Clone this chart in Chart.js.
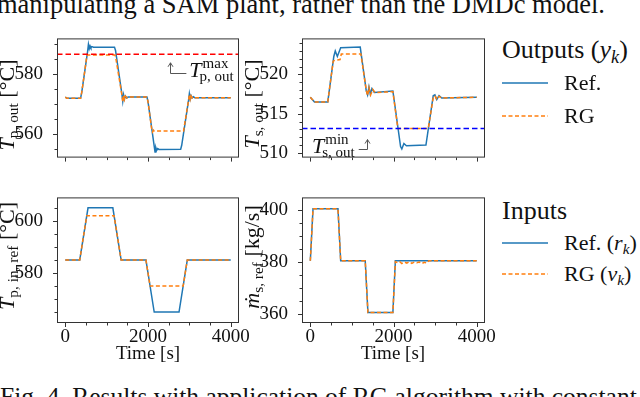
<!DOCTYPE html>
<html>
<head>
<meta charset="utf-8">
<script src="https://cdn.jsdelivr.net/npm/chart.js@4.4.0/dist/chart.umd.min.js"></script>
<style>
  body { margin: 0; width: 640px; height: 397px; overflow: hidden; background: #fff; position: relative;
         font-family: 'Liberation Serif', 'Times New Roman', serif; color: #111; }
  canvas { position: absolute; }
  .txt { position: absolute; white-space: nowrap; line-height: 1; }
  .ylab { position: absolute; white-space: nowrap; font-size: 22px; line-height: 1;
          transform: translate(-50%, -50%) rotate(-90deg); }
  .xlab { position: absolute; white-space: nowrap; font-size: 19px; line-height: 1; transform: translateX(-50%); }
  sub { font-size: 0.7em; vertical-align: -0.28em; line-height: 0; }
  .math { font-family: 'Liberation Serif', 'DejaVu Serif', serif; }
  .legtitle { position: absolute; white-space: nowrap; font-size: 26px; line-height: 26px; }
  .legitem { position: absolute; white-space: nowrap; font-size: 22px; line-height: 22px; }
  svg { position: absolute; }
</style>
</head>
<body>
<div class="txt" style="left:-3px; top:-9px; font-size:26.5px;">manipulating a SAM plant, rather than the DMDc model.</div>

<canvas id="c1" width="249" height="154" style="left:0px; top:21px;"></canvas>
<canvas id="c2" width="250" height="154" style="left:245px; top:21px;"></canvas>
<canvas id="c3" width="249" height="175" style="left:0px; top:180px;"></canvas>
<canvas id="c4" width="250" height="175" style="left:245px; top:180px;"></canvas>

<div class="ylab" style="left:7px; top:105px;"><i>T</i><sub>p, out</sub> [°C]</div>
<div class="ylab" style="left:252px; top:104px;"><i>T</i><sub>s, out</sub> [°C]</div>
<div class="ylab" style="left:7px; top:256px;"><i>T</i><sub>p, in, ref</sub> [°C]</div>
<div class="ylab math" style="left:252px; top:257px;"><i>ṁ</i><sub>s, ref</sub> [kg/s]</div>

<div class="xlab" style="left:148px; top:343px;">Time [s]</div>
<div class="xlab" style="left:393px; top:343px;">Time [s]</div>

<div class="legtitle" style="left:502px; top:37px;">Outputs (<i>y<sub>k</sub></i>)</div>
<svg style="left:502px; top:81px;" width="46" height="4"><line x1="0" y1="2" x2="46" y2="2" stroke="#1f77b4" stroke-width="1.5"/></svg>
<div class="legitem" style="left:564px; top:72px;">Ref.</div>
<svg style="left:502px; top:114px;" width="46" height="4"><line x1="0" y1="2" x2="46" y2="2" stroke="#ff7f0e" stroke-width="1.5" stroke-dasharray="4 2.5"/></svg>
<div class="legitem" style="left:564px; top:105px;">RG</div>

<div class="legtitle" style="left:502px; top:198px;">Inputs</div>
<svg style="left:502px; top:241px;" width="46" height="4"><line x1="0" y1="2" x2="46" y2="2" stroke="#1f77b4" stroke-width="1.5"/></svg>
<div class="legitem" style="left:564px; top:232px;">Ref. (<i>r<sub>k</sub></i>)</div>
<svg style="left:502px; top:272px;" width="46" height="4"><line x1="0" y1="2" x2="46" y2="2" stroke="#ff7f0e" stroke-width="1.5" stroke-dasharray="4 2.5"/></svg>
<div class="legitem" style="left:564px; top:263px;">RG (<i>v<sub>k</sub></i>)</div>

<div class="txt" style="left:0px; top:384px; font-size:25.5px;">Fig. 4. Results with application of RG algorithm with constant</div>

<script>
// ---- data ----
const timeTicks = [0, 2000, 4000];

// T_p,out (top left)
const tpOutRefTime = [0, 40, 370, 400, 540, 560, 580, 600, 620, 645, 680, 1190, 1215, 1370, 1390, 1410, 1430, 1455, 1485, 1520, 1975, 2000, 2150, 2170, 2190, 2210, 2235, 2265, 2790, 2815, 2980, 3000, 3020, 3040, 3065, 3095, 3130, 4000];
const tpOutRef = [572.3, 571.9, 571.9, 574.0, 587.5, 589.8, 588.4, 589.3, 588.7, 589.1, 588.9, 588.9, 587.8, 573.2, 570.9, 573.0, 571.6, 572.6, 572.0, 572.3, 572.3, 570.8, 556.0, 554.1, 555.5, 554.6, 555.2, 554.9, 555.0, 556.3, 571.2, 573.4, 571.7, 572.8, 572.0, 572.4, 572.1, 572.1];
const tpOutRgTime = [0, 40, 370, 400, 520, 540, 1200, 1220, 1370, 1390, 1410, 1430, 1455, 1485, 1520, 1975, 2000, 2090, 2110, 2130, 2150, 2860, 2875, 2980, 3000, 3020, 3040, 3065, 3095, 3130, 4000];
const tpOutRg = [572.3, 571.9, 571.9, 574.0, 585.8, 586.3, 586.3, 585.4, 572.9, 570.7, 573.1, 571.5, 572.6, 572.0, 572.3, 572.3, 570.8, 561.6, 560.7, 561.3, 561.0, 561.0, 562.4, 571.2, 573.2, 571.6, 572.7, 572.0, 572.4, 572.1, 572.1];
const tpOutMax = 586.5;
const tpOutTicks = [560, 580];

// T_s,out (top right)
const tsOutRefTime = [0, 100, 420, 565, 600, 650, 730, 1200, 1345, 1377, 1410, 1442, 1482, 1540, 1985, 2170, 2200, 2250, 2310, 2780, 2955, 2995, 3040, 3095, 3160, 4000];
const tsOutRef = [517.1, 516.5, 516.5, 522.3, 523.0, 522.3, 523.4, 523.5, 517.9, 517.4, 518.4, 517.5, 518.2, 517.7, 517.9, 510.8, 510.5, 511.2, 510.9, 511.0, 517.3, 517.4, 516.8, 517.3, 517.0, 517.1];
const tsOutRgTime = [0, 100, 420, 550, 590, 715, 745, 1215, 1345, 1377, 1410, 1450, 1500, 1555, 1985, 2105, 2835, 2955, 2995, 3040, 3095, 3160, 4000];
const tsOutRg = [517.1, 516.5, 516.5, 521.7, 521.8, 521.9, 522.6, 522.6, 518.0, 517.3, 518.3, 517.4, 518.1, 517.7, 517.8, 513.1, 513.1, 517.0, 517.3, 516.8, 517.2, 517.0, 517.1];
const tsOutMin = 513.1;
const tsOutTicks = [510, 515, 520];

// T_p,in,ref (bottom left)
const tpInRefTime = [0, 350, 550, 1150, 1350, 1950, 2150, 2750, 2950, 4000];
const tpInRef = [585, 585, 605, 605, 585, 585, 565, 565, 585, 585];
const tpInRgTime = [0, 350, 520, 1180, 1350, 1950, 2050, 2850, 2950, 4000];
const tpInRg = [585, 585, 602, 602, 585, 585, 575, 575, 585, 585];
const tpInTicks = [580, 600];

// m_s,ref (bottom right)
const msRefTime = [0, 65, 665, 730, 1320, 1385, 1985, 2045, 4000];
const msRef = [380.4, 400.4, 400.4, 380.4, 380.4, 360.4, 360.4, 380.4, 380.4];
const msRgTime = [0, 65, 665, 730, 1320, 1385, 1985, 2045, 2100, 2150, 2200, 2260, 2320, 2380, 2440, 2500, 2560, 2620, 2680, 2740, 2800, 2850, 4000];
const msRg = [380.4, 400.4, 400.4, 380.4, 380.4, 360.4, 360.4, 380.0, 379.6, 380.0, 379.3, 379.9, 379.5, 380.0, 379.4, 379.9, 379.6, 379.9, 379.3, 379.8, 379.5, 380.4, 380.4];
const msTicks = [360, 380, 400];

// ---- helpers ----
const BLUE = '#1f77b4', ORANGE = '#ff7f0e';
const SERIF = "'Liberation Serif', 'Times New Roman', serif";
Chart.defaults.font.family = SERIF;

const pts = (xs, ys) => xs.map((x, i) => ({ x: x, y: ys[i] }));

function refSet(xs, ys) {
  return { data: pts(xs, ys), borderColor: BLUE, borderWidth: 1.5, order: 2 };
}
function rgSet(xs, ys) {
  return { data: pts(xs, ys), borderColor: ORANGE, borderWidth: 1.5, borderDash: [4, 2.5], order: 1 };
}
function limitSet(v, color) {
  return { data: [{ x: -200, y: v }, { x: 4200, y: v }], borderColor: color, borderWidth: 1.5, borderDash: [5.5, 3], order: 0 };
}

// frame, tick marks and the constraint annotation
const framePlugin = {
  id: 'frame',
  afterDraw(chart, args, opts) {
    const { ctx, chartArea: a } = chart;
    const xs = chart.scales.x, ys = chart.scales.y;
    ctx.save();
    ctx.strokeStyle = '#333';
    ctx.lineWidth = 1;
    ctx.strokeRect(a.left + 0.5, a.top + 0.5, a.width - 1, a.height - 1);
    ctx.beginPath();
    for (let v = 0; v <= 4000; v += 500) {
      const px = Math.round(xs.getPixelForValue(v)) + 0.5;
      const len = v % 2000 === 0 ? 4 : 2.5;
      ctx.moveTo(px, a.bottom);
      ctx.lineTo(px, a.bottom + len);
    }
    const n0 = Math.ceil(ys.min / opts.minor), n1 = Math.floor(ys.max / opts.minor);
    for (let n = n0; n <= n1; n++) {
      const v = n * opts.minor;
      const py = Math.round(ys.getPixelForValue(v)) + 0.5;
      const len = v % opts.major === 0 ? 4 : 2.5;
      ctx.moveTo(a.left, py);
      ctx.lineTo(a.left - len, py);
    }
    ctx.stroke();

    const an = opts.annot;
    if (an) {
      const tx = xs.getPixelForValue(an.x), ty = ys.getPixelForValue(an.y);
      ctx.fillStyle = '#111';
      ctx.textAlign = 'left';
      ctx.textBaseline = 'alphabetic';
      ctx.font = "italic 22px " + SERIF;
      ctx.fillText('T', tx, ty);
      const tw = ctx.measureText('T').width;
      ctx.font = "15px " + SERIF;
      ctx.fillText(an.sup, tx + tw + 1, ty - 9);
      ctx.fillText(an.sub, tx + tw - 2, ty + 4);
      const w = tw + Math.max(ctx.measureText(an.sup).width, ctx.measureText(an.sub).width);
      const ax = Math.round(xs.getPixelForValue(an.arrowX)) + 0.5;
      const tip = ys.getPixelForValue(an.tip);
      const ly = Math.round(ty - 4) + 0.5;
      const sx = an.arrowX > an.x ? tx + w + 2 : tx - 3;
      ctx.strokeStyle = '#555';
      ctx.lineWidth = 1;
      ctx.beginPath();
      ctx.moveTo(sx, ly);
      ctx.lineTo(ax, ly);
      ctx.lineTo(ax, tip);
      ctx.moveTo(ax - 2.5, tip + 4);
      ctx.lineTo(ax, tip);
      ctx.lineTo(ax + 2.5, tip + 4);
      ctx.stroke();
    }
    ctx.restore();
  }
};

function makeChart(id, c) {
  return new Chart(document.getElementById(id), {
    type: 'line',
    data: { datasets: c.datasets },
    options: {
      responsive: false,
      animation: false,
      devicePixelRatio: 1,
      layout: { padding: { top: 10, right: 10, left: 0, bottom: 0 } },
      elements: { point: { radius: 0 }, line: { tension: 0 } },
      plugins: {
        legend: { display: false },
        tooltip: { enabled: false },
        frame: { minor: c.minor, major: c.major, annot: c.annot }
      },
      scales: {
        x: {
          type: 'linear', min: -200, max: 4200,
          grid: { display: false }, border: { display: false },
          afterBuildTicks: s => { s.ticks = timeTicks.map(v => ({ value: v })); },
          afterFit: s => { s.height = c.xHeight; },
          ticks: { display: c.showX, padding: -5, autoSkip: false, maxRotation: 0,
                   color: '#111', font: { family: 'Liberation Serif', size: 19 }, callback: v => String(v) }
        },
        y: {
          type: 'linear', min: c.min, max: c.max,
          grid: { display: false }, border: { display: false },
          afterBuildTicks: s => { s.ticks = c.ticks.map(v => ({ value: v })); },
          afterFit: s => { s.width = 57; },
          ticks: { padding: 6, autoSkip: false, color: '#111', font: { family: 'Liberation Serif', size: 19 },
                   callback: v => String(v) }
        }
      }
    },
    plugins: [framePlugin]
  });
}

makeChart('c1', {
  datasets: [limitSet(tpOutMax, '#ff0000'), rgSet(tpOutRgTime, tpOutRg), refSet(tpOutRefTime, tpOutRef)],
  min: 552.2, max: 591.8, ticks: tpOutTicks, minor: 5, major: 20, xHeight: 12, showX: false,
  annot: { x: 3000, y: 579, arrowX: 2530, tip: 583.7, sup: 'max', sub: 'p, out' }
});
makeChart('c2', {
  datasets: [limitSet(tsOutMin, '#0000ff'), rgSet(tsOutRgTime, tsOutRg), refSet(tsOutRefTime, tsOutRef)],
  min: 509.4, max: 524.6, ticks: tsOutTicks, minor: 1, major: 5, xHeight: 12, showX: false,
  annot: { x: 40, y: 510.0, arrowX: 1363, tip: 511.7, sup: 'min', sub: 's, out' }
});
makeChart('c3', {
  datasets: [rgSet(tpInRgTime, tpInRg), refSet(tpInRefTime, tpInRef)],
  min: 560.8, max: 609, ticks: tpInTicks, minor: 5, major: 20, xHeight: 32, showX: true
});
makeChart('c4', {
  datasets: [rgSet(msRgTime, msRg), refSet(msRefTime, msRef)],
  min: 356.4, max: 404.8, ticks: msTicks, minor: 5, major: 20, xHeight: 32, showX: true
});
</script>
</body>
</html>
